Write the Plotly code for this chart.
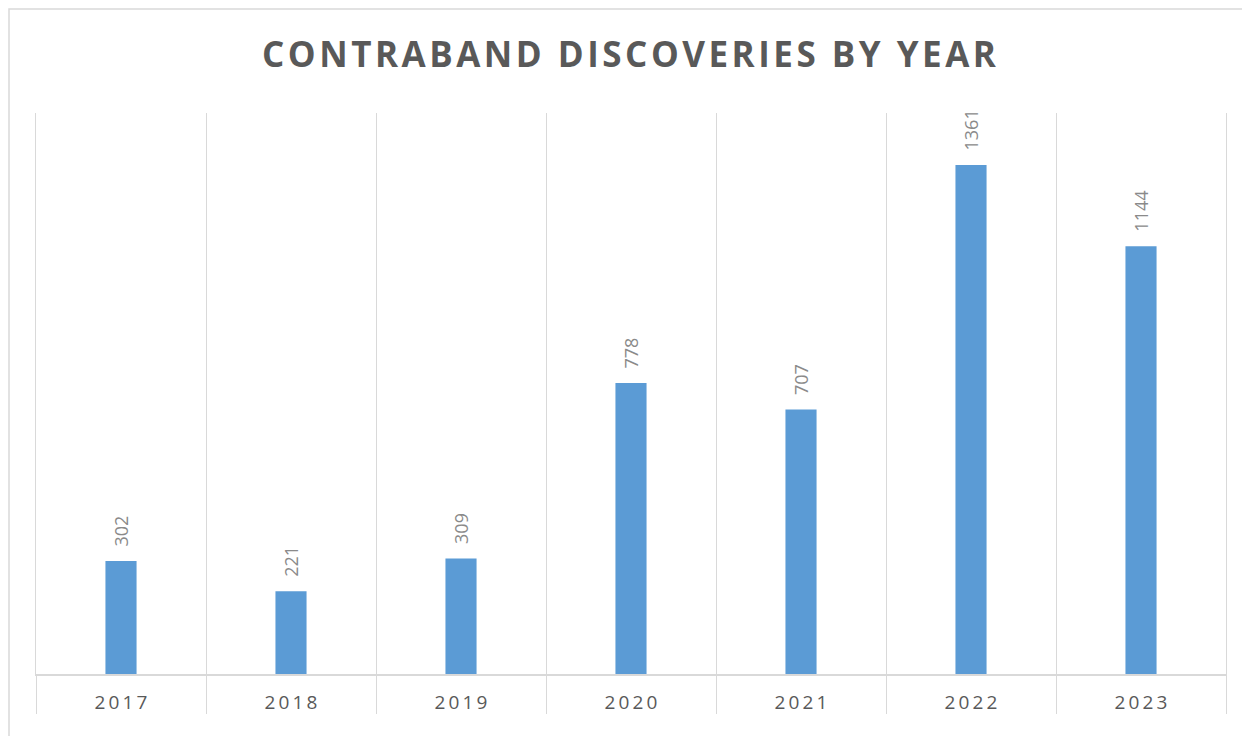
import plotly.graph_objects as go

years = ["2017", "2018", "2019", "2020", "2021", "2022", "2023"]
discoveries = [302, 221, 309, 778, 707, 1361, 1144]
title_text = "CONTRABAND DISCOVERIES BY YEAR"

def spaced(s, sep="\u200a"):
    return sep.join(list(s))

tick_text = [spaced(y, "\u2009") for y in years]

fig = go.Figure()
fig.add_trace(go.Bar(
    x=years, y=discoveries,
    marker=dict(color="#5b9bd5", line=dict(width=0)),
    hoverinfo="x+y",
))

annotations = []
for i, v in enumerate(discoveries):
    annotations.append(dict(
        x=i, y=v, xref="x", yref="y",
        text=str(v), textangle=-90, showarrow=False,
        yanchor="bottom", xanchor="center", yshift=12,
        font=dict(family="Open Sans", size=18, color="#8a8a8a"),
    ))

fig.update_layout(
    width=1242, height=728,
    margin=dict(l=28, r=24, t=105, b=62),
    paper_bgcolor="white", plot_bgcolor="white",
    bargap=0.817,
    showlegend=False,
    title=dict(
        text=spaced(title_text),
        x=0.5, xref="container", xanchor="center",
        y=1 - 47 / 728, yref="container", yanchor="middle",
        font=dict(family="Open Sans", size=35, color="#595959", weight="bold"),
    ),
    xaxis=dict(
        type="category",
        tickmode="array", tickvals=years, ticktext=tick_text,
        tickson="boundaries",
        showgrid=True, gridcolor="#d9d9d9", gridwidth=1,
        ticks="outside", ticklen=38, tickcolor="#d9d9d9", tickwidth=1,
        ticklabelstandoff=10,
        showline=True, linecolor="#d9d9d9", linewidth=2,
        tickfont=dict(family="Open Sans", size=19, color="#595959"),
        range=[-0.5, 6.5], fixedrange=True,
    ),
    yaxis=dict(
        range=[0, 1500], showticklabels=False, ticks="", showgrid=False, zeroline=False,
        showline=True, mirror=True, linecolor="#d9d9d9", linewidth=1, fixedrange=True,
    ),
    annotations=annotations,
    shapes=[dict(
        type="rect", xref="paper", yref="paper",
        x0=(9 - 36) / 1190, x1=1.1, y0=-0.5, y1=(674 - 9) / 561,
        line=dict(color="#d9d9d9", width=1.5), fillcolor="rgba(0,0,0,0)", layer="below",
    )],
)

fig.write_html("out.html")
